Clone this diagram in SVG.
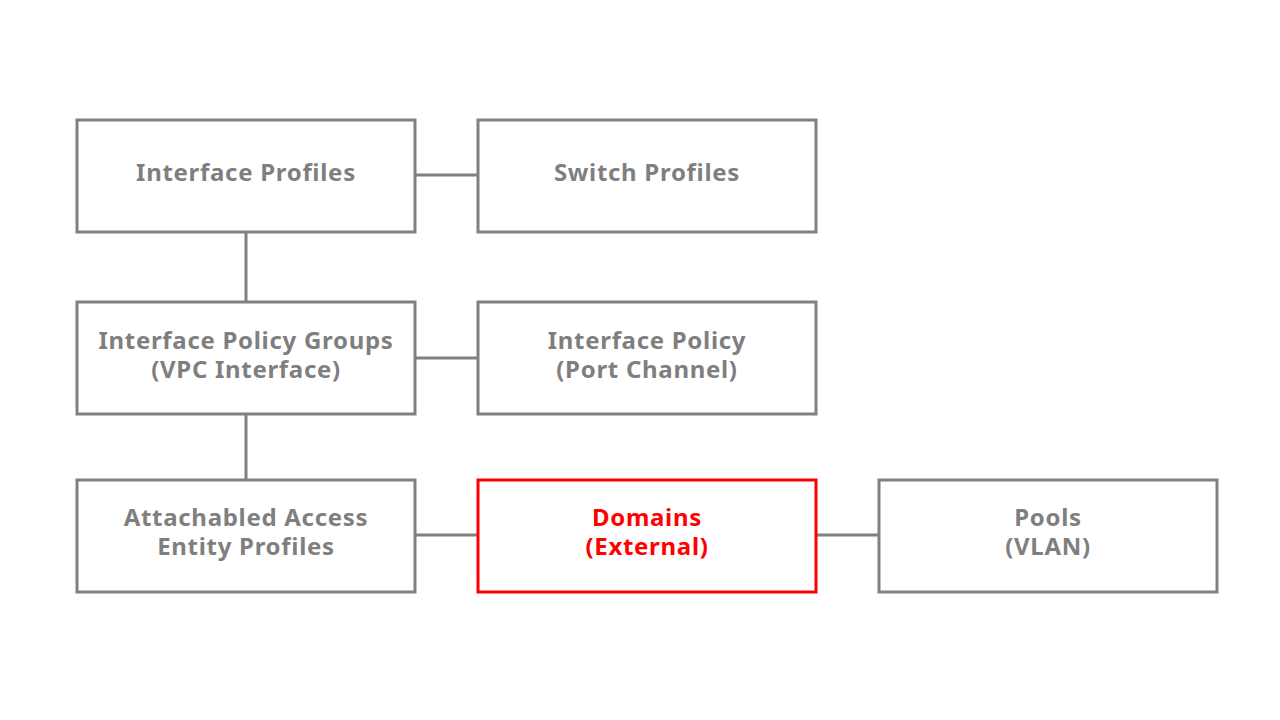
<svg xmlns="http://www.w3.org/2000/svg" width="1280" height="720" viewBox="0 0 1280 720">
<style>
.box{fill:#fff;stroke:#808080;stroke-width:3}
.hl{fill:#fff;stroke:#ff0000;stroke-width:3}
.t{font-family:"Noto Sans","DejaVu Sans",sans-serif;font-weight:bold;font-size:24px;letter-spacing:0.7px;fill:#7f7f7f;text-anchor:middle}
.tr{fill:#ff0000}
.c{stroke:#808080;stroke-width:3;fill:none}
</style>
<rect width="1280" height="720" fill="#fff"/>
<g id="connectors">
<line class="c" x1="415" y1="175" x2="478" y2="175"/>
<line class="c" x1="246" y1="232" x2="246" y2="301"/>
<line class="c" x1="415" y1="358" x2="478" y2="358"/>
<line class="c" x1="246" y1="414" x2="246" y2="480"/>
<line class="c" x1="415" y1="535" x2="478" y2="535"/>
<line class="c" x1="816" y1="535" x2="879" y2="535"/>
</g>
<g id="interface-profiles">
<rect class="box" x="77" y="120" width="338" height="112"/>
<text class="t" x="246" y="181">Interface Profiles</text>
</g>
<g id="switch-profiles">
<rect class="box" x="478" y="120" width="338" height="112"/>
<text class="t" x="647" y="181">Switch Profiles</text>
</g>
<g id="interface-policy-groups">
<rect class="box" x="77" y="302" width="338" height="112"/>
<text class="t" x="246" y="349">Interface Policy Groups</text>
<text class="t" x="246" y="378">(VPC Interface)</text>
</g>
<g id="interface-policy">
<rect class="box" x="478" y="302" width="338" height="112"/>
<text class="t" x="647" y="349">Interface Policy</text>
<text class="t" x="647" y="378">(Port Channel)</text>
</g>
<g id="aaep">
<rect class="box" x="77" y="480" width="338" height="112"/>
<text class="t" x="246" y="526">Attachabled Access</text>
<text class="t" x="246" y="555">Entity Profiles</text>
</g>
<g id="domains">
<rect class="hl" x="478" y="480" width="338" height="112"/>
<text class="t tr" x="647" y="526">Domains</text>
<text class="t tr" x="647" y="555">(External)</text>
</g>
<g id="pools">
<rect class="box" x="879" y="480" width="338" height="112"/>
<text class="t" x="1048" y="526">Pools</text>
<text class="t" x="1048" y="555">(VLAN)</text>
</g>
</svg>
